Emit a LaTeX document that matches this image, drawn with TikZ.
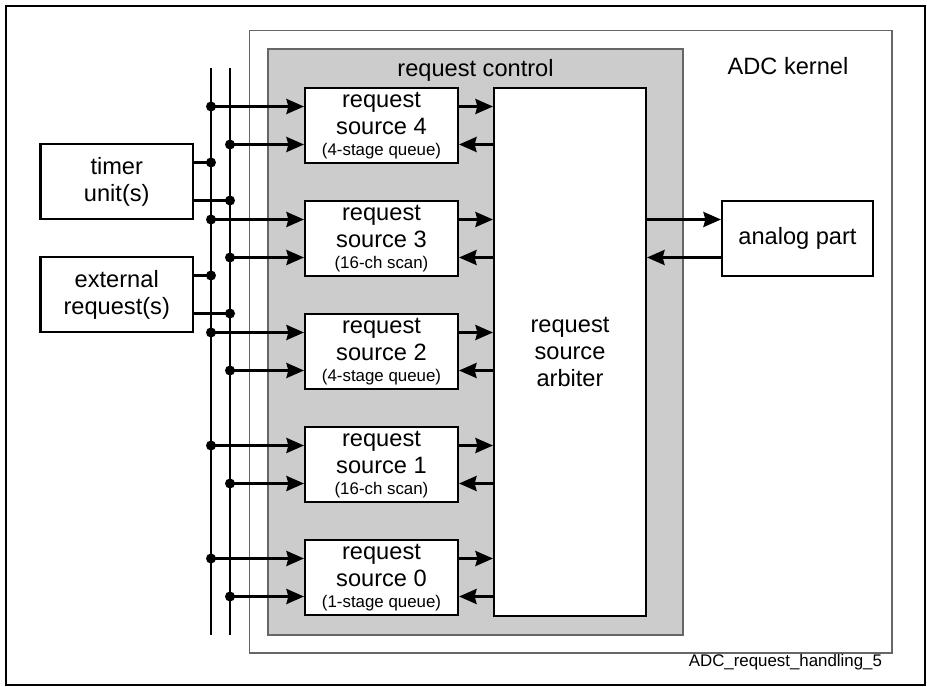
\documentclass[tikz,border=0pt]{standalone}
\usepackage{fontspec}
\setmainfont{Liberation Sans}
\usetikzlibrary{arrows.meta}
\definecolor{ctrlgray}{HTML}{CCCCCC}
\definecolor{framegray}{HTML}{666666}
\newcommand{\blocksize}{\fontsize{16.8}{19.2}\selectfont}
\newcommand{\notesize}{\fontsize{12}{14}\selectfont}

\begin{document}
\begin{tikzpicture}[
  >={Stealth[length=4.4mm, width=3.8mm, inset=0.5mm]},
  blockbox/.style={
    draw=black, line width=1.5pt, fill=white,
    minimum width=38.25mm, minimum height=18.75mm,
    font=\blocksize, align=center, inner sep=0pt
  },
  arr/.style={->, line width=1.5pt, black},
  bus/.style={line width=1.5pt, black},
  junction/.style={fill=black},
  frame/.style={draw=framegray, line width=1pt},
]

\useasboundingbox (0,0) rectangle (23.175,17.175);

% Outer frame
\draw[line width=1.8pt] (0.15,0.05) rectangle (23.13,17.025);

% ---- ADC kernel and request control ----
\draw[frame] (6.2375,0.85) rectangle (22.3,16.4125);
\draw[frame, fill=ctrlgray] (6.7,1.3) rectangle (17.075,15.95);

\node[font=\blocksize, anchor=base] (ctrllabel) at (11.8875,15.25) {request control};
\node[font=\blocksize, anchor=base] (kernellabel) at (19.7,15.3) {ADC kernel};
\node[font=\notesize, anchor=base east] (figlabel) at (22.175,0.5) {ADC\_request\_handling\_5};

% ---- Request sources ----
\foreach \i/\kind in {4/4-stage queue, 3/16-ch scan, 2/4-stage queue,
                      1/16-ch scan, 0/1-stage queue} {
  \node[blockbox] (src\i) at (9.5375,{2.7375+2.825*\i})
    {request\\source \i\\[-4.3pt]{\notesize(\kind)}};
}

% ---- Arbiter ----
\node[blockbox, minimum width=38mm, minimum height=132mm]
  (arbiter) at (14.25,8.375) {request\\source\\arbiter};

% ---- Trigger sources and analog part ----
\node[blockbox, minimum width=38.125mm] (timer) at (2.91875,12.6375) {timer\\unit(s)};
\node[blockbox, minimum width=38.125mm] (extreq) at (2.91875,9.8125) {external\\request(s)};
\node[blockbox, minimum width=37.75mm] (analog) at (19.9375,11.2125) {analog part};

% ---- Bus lines ----
\coordinate (busAtop) at (5.275,15.475);
\coordinate (busAbot) at (5.275,1.3);
\coordinate (busBtop) at (5.75,15.475);
\coordinate (busBbot) at (5.75,1.3);
\draw[bus] (busAtop) -- (busAbot);
\draw[bus] (busBtop) -- (busBbot);

% Trigger lines onto the buses
\foreach \src in {timer, extreq} {
  \coordinate (\src-a) at ([yshift=4.75mm]\src.east);
  \coordinate (\src-b) at ([yshift=-4.75mm]\src.east);
  \draw[bus] (\src-a) -- (busAtop |- \src-a);
  \draw[bus] (\src-b) -- (busBtop |- \src-b);
  \fill[junction] (busAtop |- \src-a) circle (1.25mm);
  \fill[junction] (busBtop |- \src-b) circle (1.25mm);
}

% Buses into sources, sources to/from arbiter
\foreach \i in {0,...,4} {
  \coordinate (src\i-a) at ([yshift=4.75mm]src\i.west);
  \coordinate (src\i-b) at ([yshift=-4.75mm]src\i.west);
  \coordinate (src\i-c) at ([yshift=4.75mm]src\i.east);
  \coordinate (src\i-d) at ([yshift=-4.75mm]src\i.east);
  \draw[arr] (busAtop |- src\i-a) -- (src\i-a);
  \draw[arr] (busBtop |- src\i-b) -- (src\i-b);
  \fill[junction] (busAtop |- src\i-a) circle (1.25mm);
  \fill[junction] (busBtop |- src\i-b) circle (1.25mm);
  \draw[arr] (src\i-c) -- (arbiter.west |- src\i-c);
  \draw[arr] (arbiter.west |- src\i-d) -- (src\i-d);
}

% Arbiter to/from analog part
\coordinate (analog-a) at ([yshift=4.75mm]analog.west);
\coordinate (analog-b) at ([yshift=-4.75mm]analog.west);
\draw[arr] (arbiter.east |- analog-a) -- (analog-a);
\draw[arr] (analog-b) -- (arbiter.east |- analog-b);

\end{tikzpicture}
\end{document}
